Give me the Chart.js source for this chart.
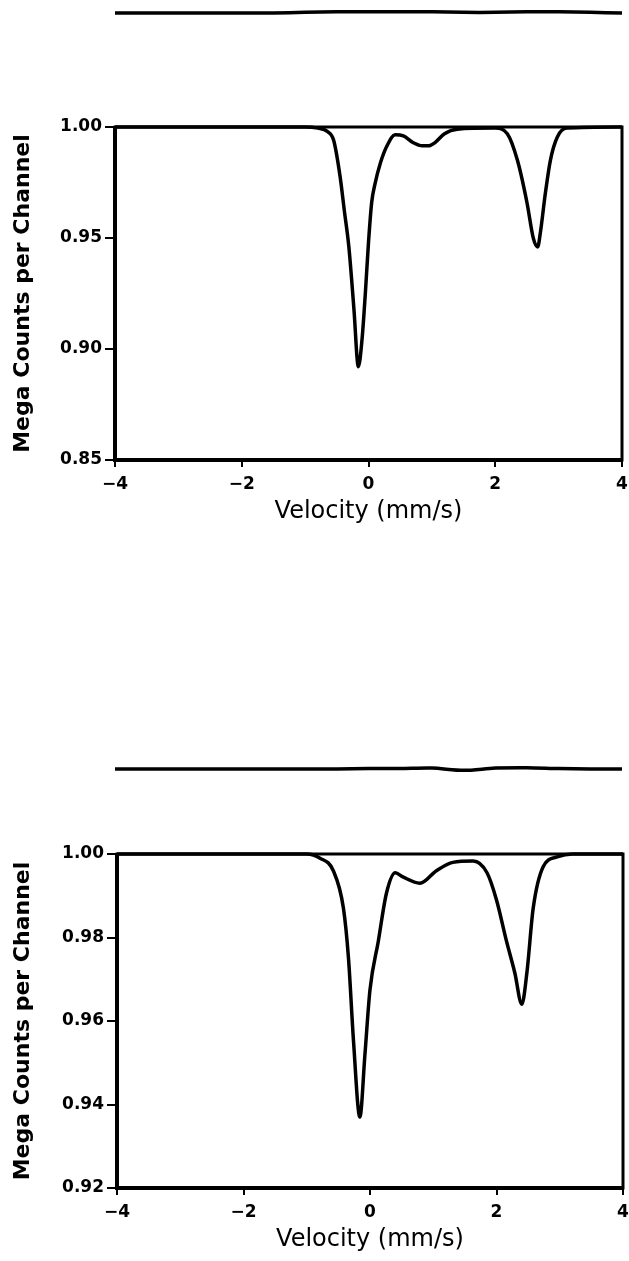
<!DOCTYPE html>
<html><head><meta charset="utf-8">
<script src="https://cdn.jsdelivr.net/npm/chart.js@4"></script>
<style>
html,body{margin:0;padding:0;background:#fff;width:629px;height:1261px;overflow:hidden}
canvas{position:absolute;left:0}
</style></head><body>
<canvas id="r1" style="top:0px" width="629" height="30"></canvas>
<canvas id="c1" style="top:100px" width="629" height="430"></canvas>
<canvas id="r2" style="top:750px" width="629" height="40"></canvas>
<canvas id="c2" style="top:830px" width="629" height="431"></canvas>
<script>
// ---- data ----
const vel1 = [-4.0,-1.0,-0.8,-0.65,-0.55,-0.45,-0.38,-0.31,-0.23,-0.16,-0.1,-0.05,0.0,0.05,0.1,0.19,0.3,0.42,0.55,0.7,0.85,0.95,1.05,1.2,1.4,2.0,2.19,2.35,2.5,2.6,2.67,2.71,2.79,2.87,2.98,3.13,4.0];
const counts1 = [1.000,1.000,0.9995,0.998,0.994,0.978,0.962,0.946,0.918,0.892,0.905,0.925,0.948,0.966,0.974,0.984,0.992,0.9965,0.996,0.993,0.9915,0.9915,0.993,0.997,0.999,0.9995,0.997,0.985,0.966,0.950,0.946,0.952,0.970,0.985,0.9955,0.9995,1.000];

const vel2 = [-4.0,-1.0,-0.79,-0.58,-0.42,-0.34,-0.26,-0.16,-0.08,0.0,0.13,0.26,0.4,0.52,0.79,1.05,1.31,1.63,1.85,2.0,2.16,2.29,2.4,2.48,2.58,2.74,2.96,3.2,4.0];
const counts2 = [1.000,1.000,0.999,0.996,0.987,0.975,0.955,0.937,0.952,0.9675,0.979,0.9906,0.9955,0.9945,0.993,0.996,0.998,0.9983,0.9955,0.989,0.979,0.9715,0.964,0.9715,0.987,0.997,0.9993,1.000,1.000];

const resVel = [-4,-3.5,-3,-2.5,-2,-1.5,-1,-0.5,0,0.5,1,1.5,2,2.5,3,3.5,4];
const resid1 = [0,0,0,0,0,0,0.05,0.1,0.1,0.1,0.1,0.05,0.05,0.1,0.1,0.05,0];
const resid2 = [0,0,0,0,0,0,0,0,0.05,0.05,0.1,-0.15,0.1,0.15,0.05,0,0];

const xTicks = [-4,-2,0,2,4];
const xTickLabels = ['\u22124','\u22122','0','2','4'];
const yTicks1 = [0.85,0.90,0.95,1.00];
const yTickLabels1 = ['0.85','0.90','0.95','1.00'];
const yTicks2 = [0.92,0.94,0.96,0.98,1.00];
const yTickLabels2 = ['0.92','0.94','0.96','0.98','1.00'];

const xTitle = 'Velocity (mm/s)';
const yTitle = 'Mega Counts per Channel';

// ---- helpers ----
const pts = (xs, ys) => xs.map((x,i)=>({x:x, y:ys[i]}));
const FONT = "'DejaVu Sans', sans-serif";

const framePlugin = {
  id: 'frame',
  afterDraw(chart){
    const a = chart.chartArea, ctx = chart.ctx;
    ctx.save();
    ctx.strokeStyle = '#000';
    ctx.lineWidth = 3;
    ctx.strokeRect(a.left, a.top, a.right-a.left, a.bottom-a.top);
    ctx.lineWidth = 4;
    ctx.beginPath();
    ctx.moveTo(a.left, a.top); ctx.lineTo(a.left, a.bottom); ctx.lineTo(a.right, a.bottom);
    ctx.stroke();
    ctx.restore();
  }
};

function residChart(id, data, padTop, padBottom){
  new Chart(document.getElementById(id), {
    type: 'line',
    data: { datasets: [{ data: pts(resVel, data), borderColor:'#000', borderWidth:3.5, pointRadius:0, tension:0.3, clip:false }]},
    options: {
      responsive:false, animation:false, events:[],
      layout:{padding:{left:115,right:7,top:padTop,bottom:padBottom}},
      plugins:{legend:{display:false},tooltip:{enabled:false}},
      scales:{
        x:{type:'linear',min:-4,max:4,display:false},
        y:{min:-1,max:1,display:false}
      }
    }
  });
}

function mainChart(id, xs, ys, yTicks, yLabels, yMin, yMax, yWidth, xHeight, pad){
  new Chart(document.getElementById(id), {
    type: 'line',
    data: { datasets: [{ data: pts(xs, ys), borderColor:'#000', borderWidth:3.5, pointRadius:0, cubicInterpolationMode:'monotone', clip:false }]},
    options: {
      responsive:false, animation:false, events:[],
      layout:{padding:pad},
      plugins:{legend:{display:false},tooltip:{enabled:false}},
      scales:{
        x:{
          type:'linear', min:-4, max:4,
          afterBuildTicks: s => { s.ticks = xTicks.map(v=>({value:v})); },
          afterFit: s => { s.height = xHeight; s.paddingLeft = 0; s.paddingRight = 0; },
          ticks:{ color:'#000', font:{family:FONT, size:17, weight:'bold'}, padding:7, maxRotation:0,
                  callback: (v) => xTickLabels[xTicks.indexOf(v)] },
          grid:{ drawOnChartArea:false, drawTicks:true, tickLength:7, color:'#000', lineWidth:2 },
          border:{ display:true, color:'#000', width:3 },
          title:{ display:true, text:xTitle, color:'#000', font:{family:FONT, size:24}, padding:{top:0,bottom:0} }
        },
        y:{
          min:yMin, max:yMax,
          afterBuildTicks: s => { s.ticks = yTicks.map(v=>({value:v})); },
          afterFit: s => { s.width = yWidth; s.paddingTop = 0; s.paddingBottom = 0; },
          ticks:{ color:'#000', font:{family:FONT, size:17, weight:'bold'}, padding:3,
                  callback: (v) => yLabels[yTicks.findIndex(t=>Math.abs(t-v)<1e-9)] },
          grid:{ drawOnChartArea:false, drawTicks:true, tickLength:10, color:'#000', lineWidth:2 },
          border:{ display:true, color:'#000', width:3 },
          title:{ display:true, text:yTitle, color:'#000', font:{family:FONT, size:22, weight:'bold'}, padding:{top:0,bottom:0} }
        }
      }
    },
    plugins:[framePlugin]
  });
}

residChart('r1', resid1, 0, 4);
mainChart('c1', vel1, counts1, yTicks1, yTickLabels1, 0.85, 1.00, 105, 66, {left:10,right:7,top:27,bottom:4});
residChart('r2', resid2, 10, 12);
mainChart('c2', vel2, counts2, yTicks2, yTickLabels2, 0.92, 1.00, 107, 66, {left:10,right:6,top:24,bottom:7});
</script>
</body></html>
